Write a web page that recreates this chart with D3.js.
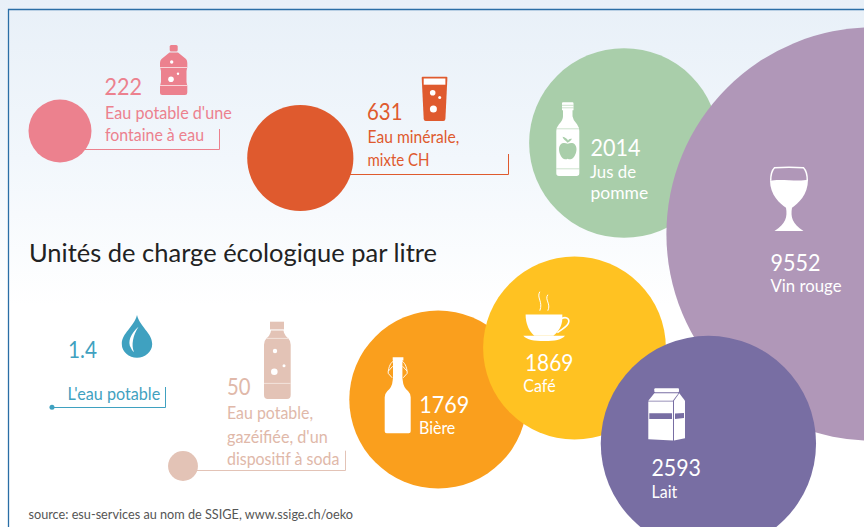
<!DOCTYPE html>
<html>
<head>
<meta charset="utf-8">
<title>Unités de charge écologique par litre</title>
<script src="https://cdnjs.cloudflare.com/ajax/libs/d3/7.8.5/d3.min.js"></script>
<style>
  html, body {margin: 0; padding: 0; background: #fff; overflow: hidden;}
  text {font-family: Lato, "Open Sans", sans-serif;}
</style>
</head>
<body>
<script>
// data, drawn back to front
const categories = ['L\'eau potable', 'Eau potable gazéifiée', 'Fontaine à eau', 'Eau minérale', 'Jus de pomme', 'Vin rouge', 'Bière', 'Café', 'Lait']
const values = [1.4, 50, 222, 631, 2014, 9552, 1769, 1869, 2593]
const valueLabels = ['1.4', '50', '222', '631', '2014', '9552', '1769', '1869', '2593']
const labelLines = [
  ['L\'eau potable'],
  ['Eau potable,', 'gazéifiée, d\'un', 'dispositif à soda'],
  ['Eau potable d\'une', 'fontaine à eau'],
  ['Eau minérale,', 'mixte CH'],
  ['Jus de', 'pomme'],
  ['Vin rouge'],
  ['Bière'],
  ['Café'],
  ['Lait']
]
const titleText = 'Unités de charge écologique par litre'
const sourceText = 'source: esu-services au nom de SSIGE, www.ssige.ch/oeko'

// colours
const fills = ['#3fa1c0', '#e3c3b6', '#ec818e', '#df5a2e', '#a9ceaa', '#b097b8', '#fa9f1d', '#ffc222', '#786ea3']
const textColors = ['#3fa1c0', '#e0b8a9', '#ec818e', '#df5a2e', '#fff', '#fff', '#fff', '#fff', '#fff']

// layout: bubble centres, value label, text lines, leader end
const centres = [[52, 407.3], [183, 466], [60, 131], [300.3, 158], [624, 143], [873, 234], [438.2, 399.5], [574.5, 348], [708.4, 443.5]]
const numberPos = [[68, 358, 29], [227, 395, 23.5], [104.5, 95, 37.5], [367, 120, 35.5], [590.5, 156, 50], [770.5, 270.7, 50], [419.3, 412.7, 50], [525, 370.7, 48.5], [651.5, 475.7, 49.5]]
const linePos = [
  [[67.5, 400, 92.7]],
  [[227, 419.3, 86], [227, 442.7, 100.7], [227, 465, 112.3]],
  [[105, 118.7, 126.7], [105, 141, 99]],
  [[367.5, 143.3, 91.7], [367.5, 166, 62]],
  [[590, 178, 46], [590.5, 199, 57.7]],
  [[770.5, 291.7, 71]],
  [[419, 434.3, 36.3]],
  [[523.3, 391.7, 32.3]],
  [[651.5, 498.3, 25.7]]
]
const leaders = [[407.5, 165.5, 387], [470.5, 345.5, 450.7], [149.5, 219.5, 129], [174.5, 508.5, 154]]

const svg = d3.select('body').append('svg').attr('width', 864).attr('height', 527).style('display', 'block')

const grad = svg.append('defs').append('linearGradient').attr('id', 'bg')
  .attr('x1', 0).attr('y1', 0).attr('x2', 0).attr('y2', 1)
grad.append('stop').attr('offset', 0).attr('stop-color', '#e8f0f8')
grad.append('stop').attr('offset', 0.3).attr('stop-color', '#f2f7fc')
grad.append('stop').attr('offset', 0.58).attr('stop-color', '#fff')

svg.append('rect').attr('width', 864).attr('height', 527).attr('fill', 'url(#bg)')

// frame: only top and left are visible
svg.append('path').attr('d', 'M8.5,527V9.5H864').attr('fill', 'none').attr('stroke', '#2a6ea6').attr('stroke-width', 1.3)

// bubble area follows the value
const r = d3.scaleSqrt().domain([0, 9552]).range([0, 206.6])

const indices = d3.range(categories.length)

// leaders go under the bubbles
svg.append('g').selectAll('path').data(leaders).enter().append('path')
  .attr('d', (d, i) => `M${centres[i][0]},${d[0]}H${d[1]}V${d[2]}`)
  .attr('fill', 'none')
  .attr('stroke', (d, i) => fills[i])
  .attr('stroke-width', 1)

svg.append('g').selectAll('circle').data(indices).enter().append('circle')
  .attr('cx', i => centres[i][0])
  .attr('cy', i => centres[i][1])
  .attr('r', i => r(values[i]))
  .attr('fill', i => fills[i])

const labels = svg.append('g')

labels.selectAll('.num').data(indices).enter().append('text')
  .attr('class', 'num')
  .attr('x', i => numberPos[i][0])
  .attr('y', i => numberPos[i][1])
  .attr('textLength', i => numberPos[i][2])
  .attr('lengthAdjust', 'spacingAndGlyphs')
  .attr('font-size', 24)
  .attr('fill', i => textColors[i])
  .text(i => valueLabels[i])

indices.forEach(i => {
  labels.selectAll(null).data(labelLines[i]).enter().append('text')
    .attr('x', (d, j) => linePos[i][j][0])
    .attr('y', (d, j) => linePos[i][j][1])
    .attr('textLength', (d, j) => linePos[i][j][2])
    .attr('lengthAdjust', 'spacingAndGlyphs')
    .attr('font-size', 17)
    .attr('fill', textColors[i])
    .text(d => d)
})

svg.append('text').attr('x', 29).attr('y', 262)
  .attr('textLength', 408).attr('lengthAdjust', 'spacingAndGlyphs')
  .attr('font-size', 25).attr('fill', '#222').text(titleText)

svg.append('text').attr('x', 28.5).attr('y', 519)
  .attr('textLength', 324.5).attr('lengthAdjust', 'spacingAndGlyphs')
  .attr('font-size', 13).attr('fill', '#555').text(sourceText)

// icons
const icon = (x, y) => svg.append('g').attr('transform', `translate(${x},${y})`)
const dots = (g, list, color) => g.selectAll(null).data(list).enter().append('circle')
  .attr('cx', d => d[0]).attr('cy', d => d[1]).attr('r', d => d[2]).attr('fill', color)

// water jug
const jug = icon(160, 45)
jug.append('rect').attr('x', 9.7).attr('width', 8).attr('height', 6.5).attr('rx', 1.5).attr('fill', fills[2])
jug.append('path').attr('fill', fills[2])
  .attr('d', 'M9.5,7.5H18L26,14Q27.3,15.5,27.3,18V22L26.5,26V37L27.3,41V47.5Q27.3,50,25,50H2.5Q0,50,0,47.5V41L1,37V26L0,22V18Q0,15.5,1.5,14Z')
jug.append('path').attr('d', 'M0,22.5H27.3M0,40.5H27.3').attr('stroke', '#f8d5d9').attr('stroke-width', 1)
dots(jug, [[11.7, 17, 1.7], [18, 28.7, 1.2], [11, 34.3, 2.8]], '#fff')

// glass
const glass = icon(421.7, 76.7)
glass.append('path').attr('fill', fills[3]).attr('d', 'M1,0H24.7Q25.7,0,25.7,1L23.7,42.3Q23.5,44.3,21.7,44.3H4Q2.2,44.3,2,42.3L0,1Q0,0,1,0Z')
glass.append('rect').attr('x', 2).attr('y', 1.8).attr('width', 21.7).attr('height', 6.2).attr('fill', '#fff')
dots(glass, [[11, 16, 2.8], [18, 20.7, 1.5], [11.7, 32.3, 3.5]], '#fff')

// apple juice bottle
const apple = icon(556, 102.3)
apple.append('path').attr('fill', '#fff').attr('d', 'M7,0H16.5Q17.5,0,17.5,1V8H16.5V14Q17,18,21,22Q23.3,25,23.3,29V71Q23.3,73.7,20.5,73.7H3Q0.3,73.7,0.3,71V29Q0.3,25,3,22Q7,18,7,14V8H6V1Q6,0,7,0Z')
apple.append('path').attr('d', 'M6,3H17.5M6,5.5H17.5M0.3,26.5H23.3M0.3,66.5H23.3').attr('stroke', fills[4]).attr('stroke-width', 0.6)
apple.append('path').attr('fill', fills[4]).attr('d', 'M11.7,41.5C8,39.5,3,40.5,3,47C3,52,6.5,57,9,57Q11,57,11.7,56.5Q12.5,57,14.5,57C17,57,20.5,52,20.5,47C20.5,40.5,15.5,39.5,11.7,41.5Z')
apple.append('path').attr('fill', fills[4]).attr('d', 'M11.5,40.5C10,38.5,7,37,6.5,34.5C9,35,11.5,36.5,12,38.5C12.5,37,14,36,16,36.5C15,38.5,13,39.5,11.5,40.5Z')

// wine glass
const wine = icon(789, 166.7)
wine.append('path').attr('fill', '#fff')
  .attr('d', 'M-19,14C-10,12,10,15,19,13C19,28,9,37,3,41C1.5,50,3,57,14.5,64.3H-14.5C-3,57,-1.5,50,-3,41C-9,37,-19,28,-19,14Z')
wine.append('path').attr('fill', 'none').attr('stroke', '#fff').attr('stroke-width', 1.5)
  .attr('d', 'M-18.3,14C-18.3,8,-16.5,3,-14.5,1Q0,0,14.5,1C16.5,3,18.3,8,18.3,14')

// coffee cup
const cup = icon(523.3, 291.7)
cup.append('path').attr('fill', 'none').attr('stroke', '#fff').attr('stroke-width', 1)
  .attr('d', 'M16.5,0C13,6,20,10,16.5,19M24.5,3C21,8,28,12,24.5,19')
cup.append('path').attr('fill', '#fff').attr('d', 'M2.3,22.7H39V27C39,34,35,40,30,44H11C6,40,2.3,32,2.3,22.7Z')
cup.append('path').attr('fill', 'none').attr('stroke', '#fff').attr('stroke-width', 1.6)
  .attr('d', 'M38,27C42,25,46,26,45.5,30C45,35,39,37,34,41')
cup.append('path').attr('fill', '#fff').attr('d', 'M0,44H41.7C38,48,32,49.3,21,49.3C10,49.3,4,48,0,44Z')

// swing top beer bottle
const beer = icon(384.7, 357.3)
beer.append('path').attr('fill', '#fff').attr('d', 'M8,0H18.7V3.3H17.7V20.5L18,23Q18.5,30,23.5,34Q26,36.5,26,40V74Q26,76,24,76H2Q0,76,0,74V40Q0,36.5,2.5,34Q7.5,30,8,23L8.3,20.5V3.3H8Z')
beer.append('path').attr('fill', 'none').attr('stroke', '#fff').attr('stroke-width', 0.9)
  .attr('d', 'M8.5,4C5,6,3.5,12,3.5,16L7.5,20.5M17.5,4C21,6,22.5,12,22.5,16L18.5,20.5M3.5,14L8,9M22.5,14L18,9')

// milk carton
const carton = icon(648.3, 388.3)
carton.append('rect').attr('x', 6).attr('width', 24.7).attr('height', 4).attr('rx', 1).attr('fill', '#fff')
carton.append('path').attr('fill', '#fff').attr('d', 'M6,5H30.2L24.5,12.5H0Z')
carton.append('path').attr('fill', '#fff').attr('d', 'M0,13.2H24.7V52.3L0,51Z')
carton.append('path').attr('fill', '#fff').attr('d', 'M25.7,12.5L31,5L36.7,12.5V50L25.7,52.3Z')
carton.append('path').attr('fill', fills[8]).attr('d', 'M1,25H23.7V30.7H1ZM26.7,25.3L35.7,24.7V29.7L26.7,30.7Z')

// water drop
const drop = icon(137, 315)
drop.append('path').attr('fill', fills[0]).attr('d', 'M0,0C3,12,15.2,18,15.2,29C15.2,37,8,42.7,0,42.7C-8,42.7,-15.2,37,-15.2,29C-15.2,18,-3,12,0,0Z')
drop.append('path').attr('fill', '#fff').attr('d', 'M1.5,11.7C-6,18,-10,27,-6,33C-5.3,34.7,-4.5,36,-3,37C-6,30,-4,20,1.5,11.7Z')

// soda bottle
const soda = icon(264, 321.7)
soda.append('rect').attr('x', 6).attr('width', 14).attr('height', 7.7).attr('fill', fills[1])
soda.append('path').attr('fill', fills[1]).attr('d', 'M7,8.7H19.5L20,11Q21,14,24.5,17Q26.7,19,26.7,23V73Q26.7,77.3,23,77.3H3.7Q0,77.3,0,73V23Q0,19,2.2,17Q5.7,14,6.5,11Z')
soda.append('path').attr('d', 'M2,16.7H24.7M0,61.7H26.7').attr('stroke', '#f3e3dd').attr('stroke-width', 1)
dots(soda, [[11, 29.3, 2.2], [20, 44, 1.5], [10.3, 50, 3.3]], '#fff')
</script>
</body>
</html>
